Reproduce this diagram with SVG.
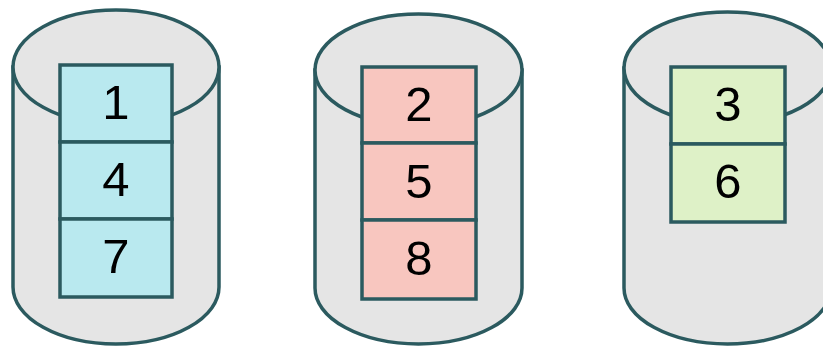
<svg xmlns="http://www.w3.org/2000/svg" width="823" height="346" viewBox="0 0 823 346">
<style>
.cyl{fill:#e5e5e5;stroke:#2b5a5f;stroke-width:3.5}
.cell{stroke:#2b5a5f;stroke-width:3.5}
.c1{fill:#b9e9ef}.c2{fill:#f8c6bf}.c3{fill:#def1c7}
.t{font-family:"Liberation Sans","DejaVu Sans",sans-serif;font-size:49px;fill:#000;text-anchor:middle}
</style>
<g id="disk1">
<path class="cyl" d="M13,67 V287 A103,57 0 0 0 219,287 V67 Z"/>
<ellipse class="cyl" cx="116" cy="67" rx="103" ry="57"/>
<rect class="cell c1" x="60" y="65" width="112" height="77"/>
<rect class="cell c1" x="60" y="142" width="112" height="77"/>
<rect class="cell c1" x="60" y="219" width="112" height="78"/>
<text class="t" x="116" y="119">1</text>
<text class="t" x="116" y="196">4</text>
<text class="t" x="116" y="273">7</text>
</g>
<g id="disk2">
<path class="cyl" d="M315,70 V288 A103.5,56 0 0 0 522,288 V70 Z"/>
<ellipse class="cyl" cx="418.5" cy="70" rx="103.5" ry="56"/>
<rect class="cell c2" x="362" y="67" width="114" height="76"/>
<rect class="cell c2" x="362" y="143" width="114" height="77"/>
<rect class="cell c2" x="362" y="220" width="114" height="79"/>
<text class="t" x="419" y="121">2</text>
<text class="t" x="419" y="198">5</text>
<text class="t" x="419" y="275">8</text>
</g>
<g id="disk3">
<path class="cyl" d="M624,68 V288 A103.5,56 0 0 0 831,288 V68 Z"/>
<ellipse class="cyl" cx="727.5" cy="68" rx="103.5" ry="56"/>
<rect class="cell c3" x="671" y="67" width="114" height="77"/>
<rect class="cell c3" x="671" y="144" width="114" height="78"/>
<text class="t" x="728" y="121">3</text>
<text class="t" x="728" y="198">6</text>
</g>
<g id="connectors"/>
</svg>
